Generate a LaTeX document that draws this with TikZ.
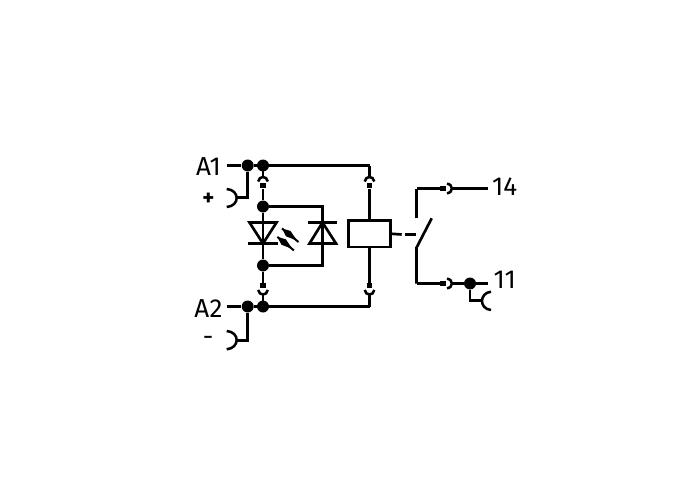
\documentclass[tikz,border=0pt]{standalone}
\usepackage{fontspec}
\setmainfont{Fira Sans}
\usepackage{tikz}

\tikzset{
	wire/.style={line width=2pt, line cap=butt},
	cup/.style={line width=1.9pt, line cap=butt},
	dot/.style={circle, fill=black, inner sep=0pt, minimum size=9pt},
	plug/.style={fill=black, inner sep=0pt},
	termlabel/.style={inner sep=0pt, font=\fontsize{19.5}{20}\selectfont},
}

\begin{document}
\begin{tikzpicture}[x=0.75pt,y=-0.75pt]

\useasboundingbox (0,0) rectangle (697,496);

\node[dot] (a1dot) at (247.7,165.5) {};
\node[dot] (a1bus) at (263,165.5) {};
\node[dot] (ledtop) at (263,206.5) {};
\node[dot] (ledbot) at (263,265.5) {};
\node[dot] (a2dot) at (247.7,306.5) {};
\node[dot] (a2bus) at (263,306.5) {};
\node[dot] (elevendot) at (470,283.5) {};

\node[termlabel] (a1) at (208.5,167) {A1};
\node[termlabel] (a2) at (208.5,308.8) {A2};
\node[termlabel, font=\fontsize{17}{17}\selectfont\bfseries] (plus) at (208.5,198.8) {+};
\node[termlabel] (minus) at (208,340.7) {-};
\node[termlabel] (fourteen) at (504.7,187) {14};
\node[termlabel] (eleven) at (504.7,279.5) {11};

\coordinate (a1end) at (226.7,165.5);
\coordinate (a2end) at (226.7,306.5);
\coordinate (busright) at (369.5,165.5);
\coordinate (busrightlow) at (369.5,306.5);
\coordinate (plusneck) at (237,197.5);
\coordinate (minusneck) at (237,340.5);

\draw[wire] (a1end)--(a1dot)--(busright);
\draw[wire] (a2end)--(a2dot)--(busrightlow);

\draw[wire] (a1dot)--(a1dot|-plusneck)--(plusneck);
\draw[wire] (a2dot)--(a2dot|-minusneck)--(minusneck);

\draw[cup] (226.7,189) .. controls (240,190) and (240,206) .. (226.7,207);
\draw[cup] (226.7,331) .. controls (240,332) and (240,348) .. (226.7,349.3);

\foreach \x/\name in {263/ledup, 369.5/coilup}{
	\node[plug, minimum width=3.8pt, minimum height=4pt] (\name) at (\x,185.8) {};
	\draw[cup] (\x-4.8,181.5) .. controls (\x-4,175.5) and (\x+4,175.5) .. (\x+4.8,181.5);
	\draw[wire] (\x,165.5)--(\x,177);
}

\foreach \x/\name in {263/leddown, 369.5/coildown}{
	\node[plug, minimum width=3.8pt, minimum height=4pt] (\name) at (\x,285.8) {};
	\draw[cup] (\x-4.8,290) .. controls (\x-4,296) and (\x+4,296) .. (\x+4.8,290);
	\draw[wire] (\x,294.5)--(\x,306.5);
}

\coordinate (ledapex) at (263,243.5);
\coordinate (zenerapex) at (322.5,222.5);

\draw[wire] (ledup)--(ledtop)--(ledapex);
\draw[wire] (ledapex)--(ledbot)--(leddown);
\draw[wire] (ledtop)-|(zenerapex);
\draw[wire] (ledbot)-|(322.5,243.5)--(zenerapex);

\draw[wire] (249.5,222.5)--(276.5,222.5)--(ledapex)--cycle;
\draw[wire] (248,243.5)--(278,243.5);

\draw[wire] (308,222.5)--(337,222.5);
\draw[wire] (zenerapex)--(309.5,243.5)--(336,243.5)--cycle;

\foreach \dx/\dy in {0/0,-4.6/8.4}{
	\begin{scope}[shift={(\dx,\dy)}]
		\draw[line width=1.5pt] (282,228.5)--(298.5,242);
		\fill (282,228.5)--(290.4,230.9)--(297,240.5)--(286,236.3)--cycle;
	\end{scope}
}

\node[draw, line width=2pt, inner sep=0pt, minimum width=31.5pt, minimum height=20pt] (coil) at (369.5,233.8) {};

\draw[wire] (coilup)--(coil);
\draw[wire] (coil)--(coildown);

\coordinate (swpivot) at (416.5,247.7);
\coordinate (swtip) at (431.7,218.3);
\coordinate (swfixed) at (416.5,218.3);
\coordinate (topcorner) at (416.5,188.5);
\coordinate (lowcorner) at (416.5,283.5);

\draw[wire] (coil.east)--(401.7,234.5);
\draw[wire] (405,234.5)--(416,234.5);

\draw[wire] (swfixed)--(topcorner);
\draw[wire] (swtip)--(swpivot)--(lowcorner);

\foreach \y/\name in {188.5/contop, 283.5/conlow}{
	\node[plug, minimum width=4.8pt, minimum height=3.8pt] (\name) at (443,\y) {};
	\draw[cup] (447,\y-4.8) .. controls (453.5,\y-4) and (453.5,\y+4) .. (447,\y+4.8);
}

\draw[wire] (topcorner)--(contop);
\draw[wire] (lowcorner)--(conlow);

\draw[wire] (452,188.5)--(488,188.5);
\draw[wire] (452,283.5)--(elevendot)--(488,283.5);

\draw[wire] (elevendot)--(470,300.5)--(481.7,300.5);
\draw[cup] (491,291.7) .. controls (479,293) and (479,309) .. (491,310);

\end{tikzpicture}
\end{document}
